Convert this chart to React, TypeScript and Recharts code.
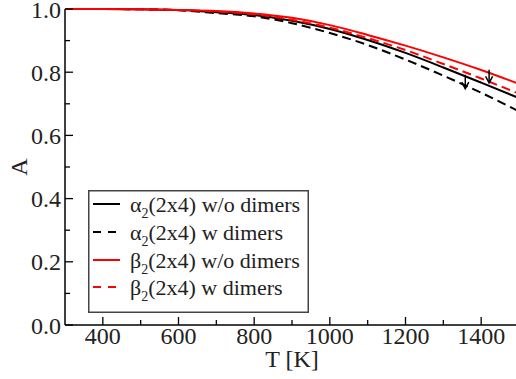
import React from 'react';
import { LineChart, Line, XAxis, YAxis, ReferenceLine, ReferenceDot, Legend, Label } from 'recharts';

const temperatures = [300, 400, 500, 600, 700, 800, 900, 1000, 1100, 1200, 1300, 1400, 1500];
const alpha2WithoutDimers = [1.0, 1.0, 0.999, 0.997, 0.99, 0.981, 0.963, 0.937, 0.902, 0.861, 0.815, 0.767, 0.718];
const alpha2WithDimers = [1.0, 1.0, 0.999, 0.996, 0.987, 0.977, 0.955, 0.924, 0.886, 0.84, 0.789, 0.735, 0.676];
const beta2WithoutDimers = [1.0, 1.0, 0.999, 0.997, 0.994, 0.986, 0.972, 0.949, 0.918, 0.884, 0.847, 0.807, 0.763];
const beta2WithDimers = [1.0, 1.0, 0.999, 0.997, 0.992, 0.983, 0.966, 0.941, 0.908, 0.87, 0.826, 0.78, 0.732];

const seriesKeys = ['a2wo', 'a2w', 'b2wo', 'b2w'];
const seriesGreek = ['α', 'α', 'β', 'β'];
const seriesLabels = ['(2x4) w/o dimers', '(2x4) w dimers', '(2x4) w/o dimers', '(2x4) w dimers'];
const seriesColors = ['#000000', '#000000', '#ff0000', '#ff0000'];
const seriesDashed = [false, true, false, true];

const xTicks = [400, 500, 600, 700, 800, 900, 1000, 1100, 1200, 1300, 1400, 1500];
const xMajorTicks = [400, 600, 800, 1000, 1200, 1400];
const yTicks = [0, 0.1, 0.2, 0.3, 0.4, 0.5, 0.6, 0.7, 0.8, 0.9, 1.0];
const yMajorTicks = [0, 0.2, 0.4, 0.6, 0.8, 1.0];

// arrows: [T, from A, to A]
const arrowT = [1358, 1421];
const arrowFrom = [0.792, 0.808];
const arrowTo = [0.748, 0.766];

const FONT = "Times New Roman, Liberation Serif, Tinos, serif";

const data = temperatures.map((t, i) => ({
  T: t,
  a2wo: alpha2WithoutDimers[i],
  a2w: alpha2WithDimers[i],
  b2wo: beta2WithoutDimers[i],
  b2w: beta2WithDimers[i],
}));

const isMajor = (v: number, list: number[]) => list.some((m) => Math.abs(m - v) < 1e-6);

const txt: React.CSSProperties = { fontFamily: FONT };

const BottomTick = (props: any) => {
  const { x, y, payload } = props;
  const major = isMajor(payload.value, xMajorTicks);
  return (
    <g>
      <line x1={x} y1={y} x2={x} y2={y - (major ? 8 : 5)} stroke="#000" strokeWidth={1.3} />
      {major && (
        <text x={x} y={y + 19} textAnchor="middle" fontSize={24} style={txt} fill="#222">
          {payload.value}
        </text>
      )}
    </g>
  );
};

const TopTick = (props: any) => {
  const { x, y, payload } = props;
  const major = isMajor(payload.value, xMajorTicks);
  return <line x1={x} y1={y} x2={x} y2={y + (major ? 8 : 5)} stroke="#000" strokeWidth={1.3} />;
};

const LeftTick = (props: any) => {
  const { x, y, payload } = props;
  const major = isMajor(payload.value, yMajorTicks);
  return (
    <g>
      <line x1={x} y1={y} x2={x + (major ? 8 : 5)} y2={y} stroke="#000" strokeWidth={1.3} />
      {major && (
        <text x={x - 4} y={y + 8.5} textAnchor="end" fontSize={24} style={txt} fill="#222">
          {Number(payload.value).toFixed(1)}
        </text>
      )}
    </g>
  );
};

const RightTick = (props: any) => {
  const { x, y, payload } = props;
  const major = isMajor(payload.value, yMajorTicks);
  return <line x1={x} y1={y} x2={x - (major ? 8 : 5)} y2={y} stroke="#000" strokeWidth={1.3} />;
};

const XTitle = (props: any) => {
  const vb = props.viewBox || {};
  const cx = vb.x + vb.width / 2;
  return (
    <text x={cx} y={vb.y + 42} textAnchor="middle" fontSize={24} style={txt} fill="#222">
      T [K]
    </text>
  );
};

const YTitle = (props: any) => {
  const vb = props.viewBox || {};
  const cy = vb.y + vb.height / 2;
  const bx = 26.5;
  return (
    <text x={bx} y={cy} textAnchor="middle" fontSize={24} style={txt} fill="#222" transform={`rotate(-90, ${bx}, ${cy})`}>
      A
    </text>
  );
};

const ArrowHead = (props: any) => {
  const { cx, cy } = props;
  if (cx == null || cy == null) return null;
  return (
    <path d={`M${cx - 3.5},${cy - 6.5} L${cx},${cy} L${cx + 3.5},${cy - 6.5}`} stroke="#000" strokeWidth={1.5} fill="none" />
  );
};

const LegendBox = () => {
  const rows = [14, 42, 70, 97];
  return (
    <svg width={221} height={123} style={{ display: 'block' }}>
      <rect x={0.75} y={0.75} width={219.5} height={121.5} fill="#fff" stroke="#444" strokeWidth={1.5} />
      {seriesKeys.map((k, i) => (
        <g key={k}>
          <line
            x1={5}
            x2={32}
            y1={rows[i]}
            y2={rows[i]}
            stroke={seriesColors[i]}
            strokeWidth={2}
            strokeDasharray={seriesDashed[i] ? '8 7' : undefined}
          />
          <text x={42} y={rows[i] + 7.5} fontSize={22} style={txt} fill="#222">
            <tspan>{seriesGreek[i]}</tspan>
            <tspan dy={6} fontSize={14}>2</tspan>
            <tspan dy={-6}>{seriesLabels[i]}</tspan>
          </text>
        </g>
      ))}
    </svg>
  );
};

export default function App() {
  return (
    <div style={{ position: 'absolute', left: 0, top: 0, width: 516, height: 379, overflow: 'hidden', background: '#fff' }}>
      <LineChart width={519} height={379} data={data} margin={{ top: 9, right: 0, bottom: 0, left: 0 }}>
        <XAxis
          dataKey="T"
          type="number"
          domain={[300, 1500]}
          ticks={xTicks}
          interval={0}
          height={54}
          tickSize={0}
          tickMargin={0}
          tickLine={false}
          tick={<BottomTick />}
          axisLine={{ stroke: '#000', strokeWidth: 1.5 }}
        >
          <Label content={<XTitle />} />
        </XAxis>
        <XAxis
          xAxisId="top"
          orientation="top"
          dataKey="T"
          type="number"
          domain={[300, 1500]}
          ticks={xTicks}
          interval={0}
          height={0}
          tickSize={0}
          tickMargin={0}
          tickLine={false}
          tick={<TopTick />}
          axisLine={{ stroke: '#000', strokeWidth: 1.2 }}
        />
        <YAxis
          type="number"
          domain={[0, 1]}
          ticks={yTicks}
          interval={0}
          width={65}
          tickSize={0}
          tickMargin={0}
          tickLine={false}
          tick={<LeftTick />}
          axisLine={{ stroke: '#000', strokeWidth: 1.5 }}
        >
          <Label content={<YTitle />} />
        </YAxis>
        <YAxis
          yAxisId="right"
          orientation="right"
          type="number"
          domain={[0, 1]}
          ticks={yTicks}
          interval={0}
          width={0}
          tickSize={0}
          tickMargin={0}
          tickLine={false}
          tick={<RightTick />}
          axisLine={{ stroke: '#000', strokeWidth: 1.5 }}
        />
        {seriesKeys.map((k, i) => (
          <Line
            key={k}
            dataKey={k}
            type="monotone"
            stroke={seriesColors[i]}
            strokeWidth={2}
            strokeDasharray={seriesDashed[i] ? '9 5' : undefined}
            dot={false}
            activeDot={false}
            isAnimationActive={false}
          />
        ))}
        {arrowT.map((t, i) => (
          <ReferenceLine
            key={'s' + i}
            segment={[
              { x: t, y: arrowFrom[i] },
              { x: t, y: arrowTo[i] },
            ]}
            stroke="#000"
            strokeWidth={1.5}
          />
        ))}
        {arrowT.map((t, i) => (
          <ReferenceDot key={'h' + i} x={t} y={arrowTo[i]} r={0} shape={(p: any) => <ArrowHead {...p} />} />
        ))}
        <Legend
          layout="vertical"
          align="center"
          verticalAlign="middle"
          content={() => <LegendBox />}
          wrapperStyle={{ position: 'absolute', left: 88, top: 190, width: 221, height: 123 }}
        />
      </LineChart>
    </div>
  );
}
